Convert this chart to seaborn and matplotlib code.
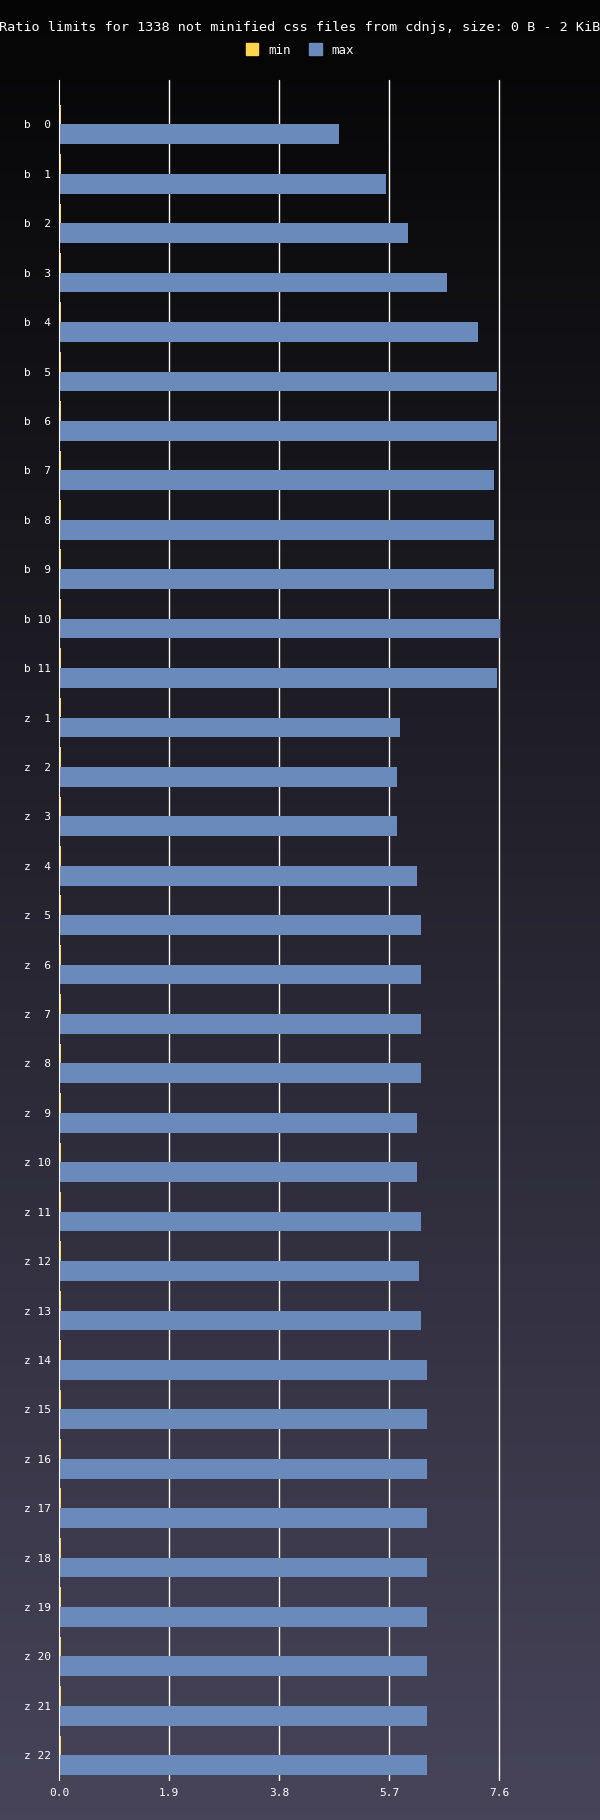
import numpy as np
import pandas as pd
import matplotlib
import matplotlib.pyplot as plt
import seaborn as sns

sns.set_style("dark")
matplotlib.rcParams["font.family"] = ["DejaVu Sans Mono", "DejaVu Sans"]

labels = ["b  0", "b  1", "b  2", "b  3", "b  4", "b  5", "b  6", "b  7", "b  8", "b  9",
          "b 10", "b 11", "z  1", "z  2", "z  3", "z  4", "z  5", "z  6", "z  7", "z  8",
          "z  9", "z 10", "z 11", "z 12", "z 13", "z 14", "z 15", "z 16", "z 17", "z 18",
          "z 19", "z 20", "z 21", "z 22"]
max_vals = [4.84, 5.65, 6.03, 6.70, 7.24, 7.57, 7.57, 7.52, 7.52, 7.52,
            7.62, 7.57, 5.89, 5.84, 5.84, 6.19, 6.26, 6.26, 6.26, 6.26,
            6.19, 6.19, 6.26, 6.22, 6.26, 6.35, 6.35, 6.36, 6.36, 6.36,
            6.36, 6.36, 6.36, 6.36]
min_vals = [0.03] * len(labels)
ticks = [0.0, 1.9, 3.8, 5.7, 7.6]

df = pd.DataFrame({
    "label": labels * 2,
    "value": min_vals + max_vals,
    "kind": ["min"] * len(labels) + ["max"] * len(labels),
})

fig = plt.figure(figsize=(6, 18.2), dpi=100)

# background gradient
bg = fig.add_axes([0, 0, 1, 1], zorder=-10)
grad = np.linspace(0, 1, 256).reshape(-1, 1)
cmap = matplotlib.colors.LinearSegmentedColormap.from_list("bg", ["#050505", "#47445a"])
bg.imshow(grad, aspect="auto", cmap=cmap, extent=[0, 1, 0, 1], origin="upper")
bg.axis("off")

ax = fig.add_axes([59 / 600, 40 / 1820, 440 / 600, 1700 / 1820])
ax.set_facecolor("none")
sns.barplot(data=df, x="value", y="label", hue="kind", orient="h",
            palette={"min": "#ffd54f", "max": "#6b8abc"}, width=0.8,
            ax=ax, legend=False, saturation=1, linewidth=0, clip_on=False)
ax.set_xlim(0, 7.6)
ax.set_ylim(len(labels) - 0.5, -0.9)
ax.set_xticks(ticks)
ax.set_xticklabels([f"{t:.1f}" for t in ticks])
ax.tick_params(colors="white", labelsize=8, length=0, pad=6)
ax.grid(False)
for t in ticks[1:]:
    ax.axvline(t, color="white", lw=1, zorder=0, clip_on=False)
for s in ["top", "right", "bottom"]:
    ax.spines[s].set_visible(False)
ax.spines["left"].set_color("white")
ax.set_xlabel("")
ax.set_ylabel("")
ax.set_axisbelow(True)

fig.text(0.5, 1 - 27 / 1820, "Ratio limits for 1338 not minified css files from cdnjs, size: 0 B - 2 KiB",
         ha="center", va="center", color="white", fontsize=9.7)
handles = [plt.Rectangle((0, 0), 1, 1, color="#ffd54f"), plt.Rectangle((0, 0), 1, 1, color="#6b8abc")]
fig.legend(handles, ["min", "max"], loc="center", bbox_to_anchor=(0.5, 1 - 50 / 1820), ncol=2,
           frameon=False, labelcolor="white", fontsize=9, handlelength=1, handleheight=1.1,
           columnspacing=1.5)

fig.savefig("out.png", dpi=100)
